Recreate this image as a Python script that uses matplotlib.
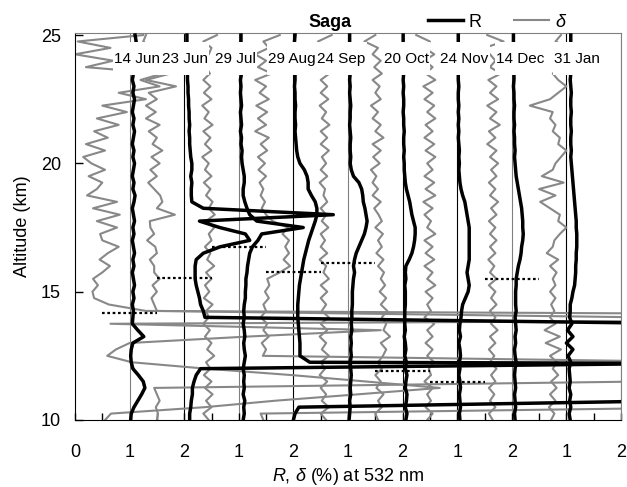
import matplotlib
matplotlib.use('Agg')
import matplotlib.pyplot as plt
from matplotlib.patches import Rectangle
from matplotlib.ticker import MultipleLocator
import numpy as np

plt.rcParams['font.family'] = ['Liberation Sans', 'DejaVu Sans']
plt.rcParams['mathtext.fontset'] = 'custom'
plt.rcParams['mathtext.rm'] = 'Liberation Sans'
plt.rcParams['mathtext.it'] = 'Liberation Sans:italic'

# altitude levels (km), 10 to 25 every 0.25 km
alt = np.linspace(10.0, 25.0, 61)

dates = ['14 Jun', '23 Jun', '29 Jul', '29 Aug', '24 Sep', '20 Oct', '24 Nov', '14 Dec', '31 Jan']
label_x = [1.13, 2.01, 2.93, 3.97, 4.88, 6.07, 7.13, 8.16, 9.20]
xtick_labels = ['0', '1', '2', '1', '2', '1', '2', '1', '2', '1', '2']
# tropopause height for each profile (km)
trop = [14.15, 15.55, 16.75, 15.75, 16.1, 11.9, 11.5, 15.5]

# backscatter ratio R and depolarization delta (%), one row per km
r_14jun = [1.02, 1.03, 1.08, 1.15,  1.22, 1.28, 1.25, 1.16,  1.06, 1.03, 1.02, 1.03,
           1.06, 1.26, 1.15, 1.05,  1.06, 1.07, 1.05, 1.08,  1.06, 1.09, 1.07, 1.05,
           1.08, 1.06, 1.09, 1.07,  1.05, 1.08, 1.06, 1.09,  1.07, 1.05, 1.08, 1.10,
           1.06, 1.08, 1.05, 1.07,  1.09, 1.06, 1.08, 1.05,  1.07, 1.09, 1.06, 1.08,
           1.05, 1.07, 1.09, 1.06,  1.08, 1.05, 1.07, 1.06,  1.09, 1.05, 1.08, 1.12,
           1.10]
d_14jun = [0.55, 0.66, 2.38, 3.66,  5.18, 6.68, 5.33, 3.97,  2.40, 1.04, 0.59, 0.75,
           1.00, 3.15, 5.60, 0.65,  25.0, 1.30, 0.62, 0.35,  0.32, 0.42, 0.33, 0.50,
           0.64, 0.45, 0.60, 0.80,  0.50, 0.46, 0.77, 0.40,  0.82, 0.33, 0.77, 0.22,
           0.40, 0.50, 0.25, 0.55,  0.30, 0.15, 0.55, 0.20,  0.60, 0.35, 0.80, 0.40,
           0.95, 0.50, 1.30, 0.80,  1.55, 1.20, 1.60, 0.20,  0.70, 0.00, 0.65, 0.05,
           1.25]

r_23jun = [1.10, 1.10, 1.12, 1.13,  1.15, 1.15, 1.18, 1.22,  1.30, 12.0, 20.0, 20.0,
           20.0, 20.0, 20.0, 10.5,  1.38, 1.35, 1.30, 1.28,  1.25, 1.22, 1.20, 1.20,
           1.20, 1.22, 1.35, 1.66,  2.20, 2.12, 1.65, 1.28,  3.73, 1.35, 1.14, 1.13,
           1.13, 1.14, 1.12, 1.14,  1.14, 1.12, 1.11, 1.10,  1.10, 1.09, 1.10, 1.09,
           1.09, 1.08, 1.08, 1.07,  1.07, 1.06, 1.06, 1.05,  1.05, 1.05, 1.05, 1.05,
           1.05]
d_23jun = [0.50, 0.52, 0.48, 0.55,  0.50, 0.45, 9.40, 9.40,  9.40, 9.40, 9.40, 9.40,
           9.40, 9.40, 9.40, 9.40,  9.40, 0.50, 0.45, 0.40,  0.50, 0.42, 0.55, 0.45,
           0.45, 0.37, 0.50, 0.47,  0.32, 0.45, 0.38, 0.37,  0.83, 0.50, 0.60, 0.56,
           0.45, 0.34, 0.50, 0.38,  0.55, 0.40, 0.60, 0.42,  0.50, 0.35, 0.55, 0.30,
           0.48, 0.30, 0.50, 0.35,  0.85, 0.30, 0.75, 0.30,  0.45, 0.30, 0.40, 0.25,
           0.30]

r_29jul = [1.08, 1.10, 1.09, 1.11,  1.08, 1.10, 1.09, 1.10,  1.08, 1.10, 1.12, 1.10,
           1.09, 1.11, 1.10, 1.08,  1.10, 1.09, 1.10, 1.12,  1.12, 1.13, 1.13, 1.15,
           1.16, 1.18, 1.20, 1.25,  1.35, 1.42, 2.18, 1.33,  1.20, 1.15, 1.11, 1.08,
           1.08, 1.10, 1.10, 1.08,  1.06, 1.05, 1.06, 1.04,  1.05, 1.03, 1.05, 1.04,
           1.03, 1.05, 1.04, 1.03,  1.04, 1.03, 1.05, 1.04,  1.03, 1.04, 1.03, 1.04,
           1.04]
d_29jul = [0.45, 0.35, 0.50, 0.40,  0.52, 0.38, 0.50, 0.36,  0.48, 0.40, 0.55, 0.42,
           0.50, 0.38, 0.47, 0.35,  0.45, 0.40, 0.52, 0.36,  0.46, 0.38, 0.50, 0.40,
           0.55, 0.42, 0.48, 0.38,  0.50, 0.45, 0.55, 0.40,  0.56, 0.45, 0.52, 0.40,
           0.48, 0.36, 0.50, 0.38,  0.45, 0.33, 0.50, 0.38,  0.48, 0.35, 0.52, 0.37,
           0.45, 0.33, 0.50, 0.36,  0.48, 0.35, 0.47, 0.40,  0.30, 0.45, 0.50, 0.35,
           0.60]

r_29aug = [1.00, 1.03, 1.10, 8.00,  25.0, 25.0, 25.0, 25.0,  40.0, 1.30, 1.12, 1.12,
           1.12, 1.11, 1.10, 1.09,  1.08, 1.08, 1.08, 1.09,  1.10, 1.11, 1.13, 1.15,
           1.17, 1.19, 1.22, 1.25,  1.28, 1.32, 1.36, 1.40,  1.43, 1.43, 1.40, 1.33,
           1.27, 1.27, 1.25, 1.20,  1.12, 1.08, 1.06, 1.05,  1.04, 1.03, 1.04, 1.03,
           1.03, 1.04, 1.03, 1.03,  1.02, 1.03, 1.03, 1.02,  1.03, 1.02, 1.03, 1.02,
           1.03]
d_29aug = [0.45, 0.40, 9.00, 9.00,  9.00, 9.00, 9.00, 9.00,  9.00, 9.00, 0.44, 0.50,
           0.42, 0.55, 0.45, 0.52,  0.40, 0.50, 0.45, 0.55,  0.48, 0.56, 0.52, 0.75,
           0.94, 0.82, 0.92, 0.85,  0.92, 0.80, 0.90, 0.62,  0.50, 0.42, 0.48, 0.40,
           0.45, 0.38, 0.50, 0.36,  0.48, 0.35, 0.52, 0.40,  0.55, 0.30, 0.50, 0.35,
           0.52, 0.32, 0.55, 0.38,  0.50, 0.30, 0.60, 0.35,  0.50, 0.30, 0.55, 0.45,
           0.75]

r_24sep = [1.02, 1.03, 1.04, 1.03,  1.05, 1.04, 1.05, 1.06,  1.05, 1.04, 1.06, 1.05,
           1.06, 1.05, 1.07, 1.06,  1.07, 1.07, 1.08, 1.08,  1.08, 1.09, 1.10, 1.12,
           1.10, 1.12, 1.15, 1.20,  1.25, 1.30, 1.33, 1.35,  1.33, 1.31, 1.28, 1.27,
           1.25, 1.20, 1.10, 1.06,  1.04, 1.05, 1.04, 1.04,  1.05, 1.04, 1.03, 1.04,
           1.04, 1.05, 1.04, 1.03,  1.04, 1.03, 1.04, 1.03,  1.03, 1.04, 1.03, 1.03,
           1.03]
d_24sep = [0.60, 0.50, 0.65, 0.52,  0.60, 0.50, 0.62, 0.48,  0.58, 0.50, 0.65, 0.52,
           0.60, 0.48, 0.62, 0.50,  0.65, 0.52, 0.60, 0.50,  0.62, 0.50, 0.65, 0.55,
           0.60, 0.48, 0.62, 0.50,  0.58, 0.50, 0.64, 0.52,  0.60, 0.50, 0.62, 0.55,
           0.58, 0.48, 0.62, 0.50,  0.60, 0.52, 0.65, 0.50,  0.62, 0.50, 0.66, 0.52,
           0.60, 0.48, 0.64, 0.50,  0.62, 0.50, 0.66, 0.55,  0.60, 0.50, 0.62, 0.45,
           0.70]

r_20oct = [1.06, 1.08, 1.05, 1.07,  1.08, 1.05, 1.06, 1.08,  1.05, 1.07, 1.04, 1.06,
           1.05, 1.03, 1.05, 1.04,  1.04, 1.04, 1.05, 1.05,  1.05, 1.04, 1.06, 1.05,
           1.06, 1.12, 1.17, 1.20,  1.22, 1.23, 1.23, 1.20,  1.17, 1.15, 1.13, 1.10,
           1.07, 1.05, 1.04, 1.03,  1.03, 1.02, 1.03, 1.02,  1.02, 1.03, 1.02, 1.02,
           1.01, 1.02, 1.02, 1.01,  1.02, 1.01, 1.02, 1.01,  1.01, 1.02, 1.01, 1.01,
           1.01]
d_20oct = [0.55, 0.50, 0.62, 0.55,  0.65, 0.52, 0.60, 0.50,  0.62, 0.55, 0.64, 0.70,
           0.60, 0.77, 0.65, 0.70,  0.62, 0.72, 0.60, 0.70,  0.58, 0.68, 0.60, 0.66,
           0.55, 0.65, 0.52, 0.62,  0.55, 0.64, 0.50, 0.62,  0.56, 0.48, 0.60, 0.45,
           0.55, 0.45, 0.52, 0.42,  0.58, 0.46, 0.60, 0.45,  0.65, 0.50, 0.60, 0.45,
           0.55, 0.42, 0.60, 0.50,  0.58, 0.45, 0.62, 0.48,  0.60, 0.45, 0.55, 0.30,
           0.50]

r_24nov = [1.05, 1.04, 1.06, 1.05,  1.04, 1.06, 1.05, 1.03,  1.05, 1.04, 1.06, 1.05,
           1.03, 1.06, 1.04, 1.05,  1.07, 1.08, 1.10, 1.15,  1.20, 1.22, 1.20, 1.18,
           1.20, 1.22, 1.22, 1.22,  1.22, 1.22, 1.22, 1.20,  1.18, 1.16, 1.14, 1.10,
           1.07, 1.05, 1.04, 1.03,  1.04, 1.03, 1.04, 1.03,  1.02, 1.03, 1.02, 1.03,
           1.02, 1.03, 1.02, 1.02,  1.03, 1.02, 1.02, 1.03,  1.02, 1.02, 1.03, 1.02,
           1.02]
d_24nov = [0.45, 0.55, 0.42, 0.52,  0.45, 0.55, 0.40, 0.52,  0.48, 0.58, 0.45, 0.55,
           0.42, 0.55, 0.45, 0.58,  0.40, 0.52, 0.45, 0.55,  0.42, 0.60, 0.45, 0.55,
           0.40, 0.58, 0.42, 0.55,  0.40, 0.60, 0.45, 0.52,  0.40, 0.55, 0.38, 0.60,
           0.42, 0.58, 0.40, 0.55,  0.45, 0.60, 0.42, 0.58,  0.40, 0.55, 0.42, 0.60,
           0.45, 0.58, 0.40, 0.55,  0.38, 0.60, 0.42, 0.55,  0.40, 0.58, 0.40, 0.50,
           0.25]

r_14dec = [1.06, 1.05, 1.07, 1.06,  1.05, 1.07, 1.06, 1.05,  1.06, 1.08, 1.06, 1.05,
           1.07, 1.06, 1.08, 1.07,  1.06, 1.08, 1.07, 1.07,  1.07, 1.08, 1.08, 1.10,
           1.12, 1.15, 1.17, 1.18,  1.20, 1.21, 1.20, 1.20,  1.19, 1.18, 1.16, 1.14,
           1.12, 1.10, 1.08, 1.07,  1.06, 1.05, 1.06, 1.05,  1.05, 1.04, 1.05, 1.04,
           1.04, 1.05, 1.04, 1.04,  1.03, 1.04, 1.04, 1.03,  1.03, 1.04, 1.03, 1.03,
           1.03]
d_14dec = [0.65, 0.58, 0.70, 0.60,  0.68, 0.58, 0.70, 0.62,  0.72, 0.60, 0.68, 0.58,
           0.70, 0.60, 0.74, 0.62,  0.70, 0.60, 0.72, 0.62,  0.70, 0.58, 0.72, 0.60,
           0.68, 0.57, 0.70, 0.60,  0.72, 0.60, 0.70, 0.58,  0.72, 0.62, 0.75, 0.60,
           0.70, 0.58, 0.72, 0.62,  0.75, 0.60, 0.72, 0.55,  0.70, 0.58, 0.78, 0.60,
           0.72, 0.55, 0.75, 0.60,  0.72, 0.57, 0.80, 0.60,  0.70, 0.60, 0.50, 0.85,
           0.55]

r_31jan = [1.07, 1.05, 1.08, 1.06,  1.08, 1.05, 1.07, 1.06,  1.05, 1.08, 1.03, 1.12,
           1.00, 1.12, 1.02, 1.10,  1.06, 1.07, 1.07, 1.10,  1.12, 1.15, 1.16, 1.17,
           1.17, 1.18, 1.18, 1.19,  1.19, 1.19, 1.18, 1.18,  1.17, 1.16, 1.15, 1.14,
           1.13, 1.12, 1.11, 1.10,  1.09, 1.08, 1.09, 1.08,  1.08, 1.09, 1.08, 1.08,
           1.09, 1.08, 1.08, 1.09,  1.08, 1.07, 1.08, 1.08,  1.07, 1.08, 1.07, 1.08,
           1.08]
d_31jan = [0.72, 0.78, 0.68, 0.80,  0.70, 0.82, 0.72, 0.85,  0.75, 0.83, 0.70, 0.90,
           0.62, 0.88, 0.60, 0.80,  0.70, 0.78, 0.72, 0.80,  0.70, 0.80, 0.75, 0.82,
           0.70, 0.85, 0.64, 0.75,  0.78, 0.88, 1.00, 0.85,  0.88, 0.70, 0.52, 0.80,
           0.50, 0.95, 0.55, 0.75,  0.80, 0.90, 1.00, 0.85,  0.88, 0.75, 0.80, 0.70,
           0.75, 0.33, 0.70, 0.85,  1.00, 0.85, 0.75, 0.90,  0.80, 0.95, 1.05, 0.80,
           0.90]

r_profiles = [r_14jun, r_23jun, r_29jul, r_29aug, r_24sep, r_20oct, r_24nov, r_14dec, r_31jan]
d_profiles = [d_14jun, d_23jun, d_29jul, d_29aug, d_24sep, d_20oct, d_24nov, d_14dec, d_31jan]

fig = plt.figure(figsize=(6.27, 4.87), dpi=100)
ax = fig.add_axes([75 / 627, 67 / 487, 546 / 627, 387 / 487])

# reference lines at every unit
line_cols = ['#808080', 'black', '#808080', 'black', '#808080', 'black', 'black', '#808080', 'black', '#808080']
for k, c in enumerate(line_cols):
    ax.axvline(k + 1, color=c, lw=0.8, zorder=1)

# each profile shifted by one unit
for i in range(len(dates)):
    ld, = ax.plot(i + np.array(d_profiles[i]), alt, color='#888888', lw=1.5, zorder=2)
    lr, = ax.plot(i + np.array(r_profiles[i]), alt, color='black', lw=2.5, zorder=3)
    if i == 0:
        h_d, h_r = ld, lr

for i, z in enumerate(trop):
    ax.hlines(z, i + 0.5, i + 1.5, colors='black', lw=1.6, linestyles=(0, (1.2, 1.2)), zorder=4)

ax.set_xlim(0, 10)
ax.set_ylim(10, 25.08)
ax.set_xticks(range(11))
ax.set_xticklabels(xtick_labels)
ax.xaxis.set_minor_locator(MultipleLocator(0.5))
ax.set_yticks([10, 15, 20, 25])
ax.tick_params(axis='both', which='both', direction='in', length=5, width=1, labelsize=13)
ax.tick_params(axis='x', pad=17)
ax.tick_params(axis='y', length=6, pad=10)
for s in ['top', 'right']:
    ax.spines[s].set_color('#808080')

ax.set_xlabel(r'$R$, $\delta$ (%) at 532 nm', fontsize=13, labelpad=4)
ax.set_ylabel('Altitude (km)', fontsize=13, labelpad=7)

ax.text(0.467, 1.028, 'Saga', transform=ax.transAxes, ha='center', va='center',
        fontsize=13, fontweight='bold')
ax.legend([h_r, h_d], ['R', r'$\delta$'], loc='center', bbox_to_anchor=(0.774, 1.028),
          ncol=2, frameon=False, fontsize=13, handlelength=1.95, handletextpad=0.3,
          columnspacing=1.8, borderaxespad=0, borderpad=0)

texts = [ax.text(xp, 24.08, lab, ha='center', va='center', fontsize=11, zorder=6)
         for lab, xp in zip(dates, label_x)]
fig.canvas.draw()
inv = ax.transData.inverted()
for t in texts:
    bb = t.get_window_extent()
    (x0, _), (x1, _) = inv.transform([[bb.x0, bb.y0], [bb.x1, bb.y1]])
    ax.add_patch(Rectangle((x0 - 0.02, 23.44), x1 - x0 + 0.04, 1.28,
                           facecolor='white', edgecolor='none', zorder=5))

fig.savefig('out.png', dpi=100)
